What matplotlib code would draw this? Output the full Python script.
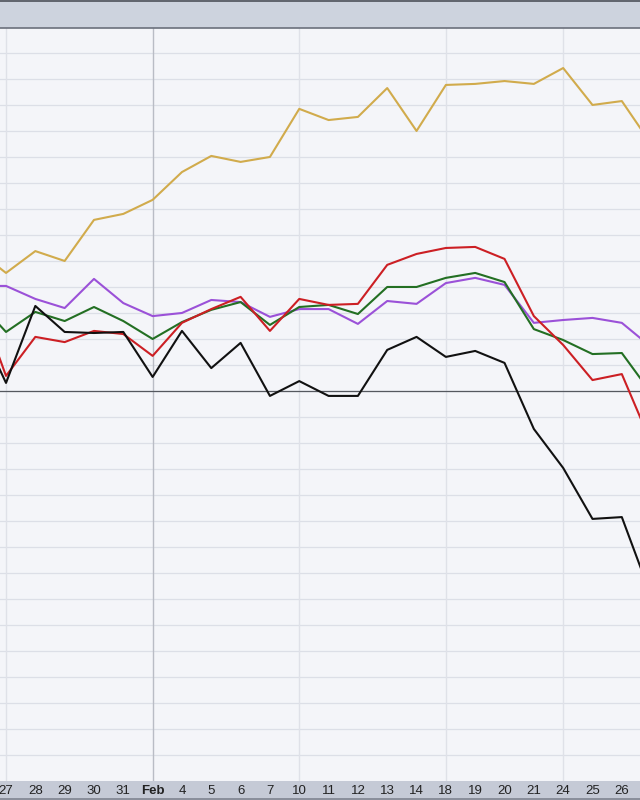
import numpy as np
import matplotlib.pyplot as plt
from matplotlib.patches import Rectangle

# Trading days, Jan 24 .. Feb 27 (first and last are only partly visible)
days = ['24', '27', '28', '29', '30', '31', 'Feb', '4', '5', '6', '7', '10', '11',
        '12', '13', '14', '18', '19', '20', '21', '24', '25', '26', '27']

# Relative performance, one grid step = 1 unit
gold = [5.42, 4.54, 5.38, 5.00, 6.58, 6.81, 7.35, 8.42, 9.04, 8.81, 9.00, 10.85,
        10.42, 10.54, 11.65, 10.00, 11.77, 11.81, 11.92, 11.81, 12.42, 11.00, 11.15, 9.50]
purple = [4.04, 4.04, 3.54, 3.19, 4.31, 3.38, 2.88, 3.00, 3.50, 3.42, 2.85, 3.15,
          3.15, 2.58, 3.46, 3.35, 4.15, 4.35, 4.08, 2.62, 2.73, 2.81, 2.62, 1.69]
green = [3.50, 2.27, 3.04, 2.69, 3.23, 2.69, 2.00, 2.65, 3.12, 3.42, 2.54, 3.23,
         3.31, 2.96, 4.00, 4.00, 4.35, 4.54, 4.19, 2.38, 1.96, 1.42, 1.46, -0.08]
red = [3.69, 0.58, 2.08, 1.88, 2.31, 2.19, 1.35, 2.62, 3.15, 3.62, 2.31, 3.54,
       3.31, 3.35, 4.85, 5.27, 5.50, 5.54, 5.08, 2.88, 1.77, 0.42, 0.65, -2.00]
black = [2.73, 0.31, 3.27, 2.27, 2.23, 2.27, 0.54, 2.31, 0.88, 1.85, -0.19, 0.38,
         -0.19, -0.19, 1.58, 2.08, 1.31, 1.54, 1.08, -1.46, -2.96, -4.92, -4.85, -7.88]

x = np.arange(len(days)) - 1  # index 0 = Jan 27

fig = plt.figure(figsize=(6.4, 8), dpi=100)
fig.patch.set_facecolor('#c9ced9')

def band(y0, h, color):
    fig.patches.append(Rectangle((0, y0 / 800), 1, h / 800, transform=fig.transFigure,
                                 facecolor=color, edgecolor='none', zorder=-5))

band(772, 28, '#cdd3de')   # header
band(798, 2, '#62666f')
band(0, 19, '#c5cad6')     # bottom axis strip
band(0, 2, '#8a8f9b')

ax = fig.add_axes([0, 19 / 800, 1, 753 / 800])
ax.set_facecolor('#f4f5f9')
ax.set_xlim(-0.205, 21.62)
ax.set_ylim(-15, 13.96)

# horizontal grid
for v in range(-14, 14):
    ax.axhline(v, color='#dcdfe7', lw=0.9, zorder=1)
ax.axhline(0, color='#55585f', lw=0.9, zorder=2)

# vertical grid at week starts
for i in [0, 10, 15, 19]:
    ax.axvline(i, color='#dfe1e8', lw=1.0, zorder=1)
ax.axvline(5, color='#b9bcc5', lw=1.0, zorder=1)

ax.plot(x, gold, color='#d1ab4c', lw=1.5, zorder=3)
ax.plot(x, purple, color='#9b51d8', lw=1.5, zorder=3)
ax.plot(x, green, color='#236f23', lw=1.5, zorder=3)
ax.plot(x, red, color='#cc1f24', lw=1.5, zorder=3)
ax.plot(x, black, color='#111111', lw=1.5, zorder=4)

for s in ['left', 'right', 'bottom']:
    ax.spines[s].set_visible(False)
ax.spines['top'].set_color('#6b707c')
ax.spines['top'].set_linewidth(1.2)
ax.set_yticks([])

ax.set_xticks(x[1:-1])
ax.set_xticklabels(days[1:-1], fontsize=9.5, family='Liberation Sans', color='#222222')
ax.tick_params(axis='x', length=0, pad=3)
for lbl in ax.get_xticklabels():
    if lbl.get_text() == 'Feb':
        lbl.set_fontweight('bold')

fig.savefig('out.png', dpi=100, facecolor=fig.get_facecolor())
